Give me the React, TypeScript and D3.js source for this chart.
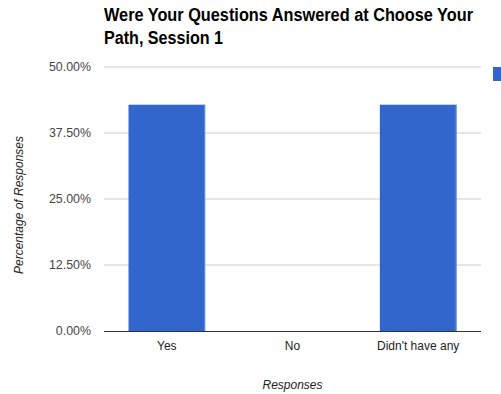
import React from "react";
import * as d3 from "d3";

const categories = ["Yes", "No", "Didn't have any"];
const values = [42.86, 0, 42.86];
const yTicks = [0, 12.5, 25, 37.5, 50];
const titleLines = ["Were Your Questions Answered at Choose Your", "Path, Session 1"];
const titleWidths = [369, 119];
const xTitle = "Responses";
const yTitle = "Percentage of Responses";

export default function App() {
  const W = 501, H = 394;
  const left = 104, right = 481, top = 67, bottom = 331;
  const x = d3.scaleBand<string>().domain(categories).range([left, right]).paddingInner(0.39).paddingOuter(0.195);
  const y = d3.scaleLinear().domain([0, 50]).range([bottom, top]);
  const font = "Arial, 'Liberation Sans', sans-serif";
  return (
    <svg width={W} height={H} style={{ position: "absolute", left: 0, top: 0, background: "#fff" }} fontFamily={font}>
      <rect x={0} y={0} width={W} height={H} fill="#fff" />
      {titleLines.map((t, i) => (
        <text key={i} x={left} y={20.5 + i * 23} fontSize={17.5} fontWeight="bold" fill="#000"
          textLength={titleWidths[i]} lengthAdjust="spacingAndGlyphs">{t}</text>
      ))}
      {yTicks.map((t) => (
        <g key={t}>
          {t !== 0 && <line x1={left} x2={right} y1={y(t)} y2={y(t)} stroke="#cccccc" strokeWidth={1} />}
          <text x={91} y={y(t)} dy="0.35em" textAnchor="end" fontSize={12.4} fill="#444">{t.toFixed(2)}%</text>
        </g>
      ))}
      {categories.map((c, i) => (
        <g key={c}>
          {values[i] > 0 && (
            <g>
              <rect x={x(c)} y={y(values[i])} width={x.bandwidth()} height={y(0) - y(values[i])} fill="#3366cc" />
              <rect x={(x(c) as number) + x.bandwidth() - 1} y={y(values[i])} width={1} height={y(0) - y(values[i])} fill="#6b90dc" />
            </g>
          )}
          <text x={(x(c) as number) + x.bandwidth() / 2} y={350} textAnchor="middle" fontSize={12} fill="#222">{c}</text>
        </g>
      ))}
      <line x1={left} x2={right} y1={y(0) + 0.5} y2={y(0) + 0.5} stroke="#333" strokeWidth={1} />
      <text x={(left + right) / 2} y={389} textAnchor="middle" fontSize={12} fontStyle="italic" fill="#222">{xTitle}</text>
      <text transform={`translate(23, 205) rotate(-90)`} textAnchor="middle" fontSize={12} fontStyle="italic" fill="#222">{yTitle}</text>
      <rect x={493} y={67} width={13} height={14} fill="#3366cc" />
    </svg>
  );
}
